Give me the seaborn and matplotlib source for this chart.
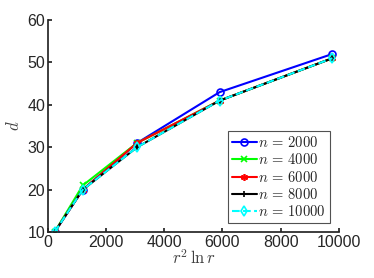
import numpy as np
import pandas as pd
import matplotlib
matplotlib.use("Agg")
import matplotlib.pyplot as plt
import seaborn as sns

# x = r^2 ln r for r = 10, 20, 30, 40, 50
r_vals = [10, 20, 30, 40, 50]
x_vals = [r * r * np.log(r) for r in r_vals]

n_labels = ["2000", "4000", "6000", "8000", "10000"]
d_2000 = [10, 20, 31, 43, 52]
d_4000 = [10, 21, 31, 41, 51]
d_6000 = [10, 20, 31, 41, 51]
d_8000 = [10, 20, 30, 41, 51]
d_10000 = [10, 20, 30, 41, 51]

sns.set_theme(style="ticks")
plt.rcParams['font.family'] = ['Liberation Sans', 'DejaVu Sans']
plt.rcParams['mathtext.fontset'] = 'cm'

series = [d_2000, d_4000, d_6000, d_8000, d_10000]
colors = ["#0000ff", "#00ff00", "#ff0000", "#000000", "#00ffff"]
markers = ["o", "x", (6, 2, 0), "+", "d"]
styles = ["-", "-", "-", "-", "--"]

fig, ax = plt.subplots(figsize=(3.74, 2.78), dpi=100)

for lab, d, c, m, ls in zip(n_labels, series, colors, markers, styles):
    df = pd.DataFrame({"x": x_vals, "d": d})
    sns.lineplot(data=df, x="x", y="d", ax=ax, color=c, marker=m, linestyle=ls,
                 linewidth=1.5, markersize=5, markerfacecolor="none",
                 markeredgecolor=c, markeredgewidth=1.2,
                 label=r"$n\,=\,%s$" % lab)

ax.set_xlim(0, 10000)
ax.set_ylim(10, 60)
ax.set_xticks([0, 2000, 4000, 6000, 8000, 10000])
ax.set_yticks([10, 20, 30, 40, 50, 60])
ax.tick_params(direction="in", length=3, labelsize=11.5, colors="#262626",
               pad=2)
ax.set_xlabel(r"$r^2\,\ln r$", fontsize=12, labelpad=-1, color="#404040")
ax.set_ylabel(r"$d$", fontsize=12, labelpad=4, color="#404040")
sns.despine(ax=ax)

leg = ax.legend(loc="lower right", fontsize=10.5, frameon=True, fancybox=False,
                handlelength=1.7, handletextpad=0.1, borderpad=0.3,
                labelspacing=0.15, borderaxespad=0.6)
leg.get_frame().set_edgecolor("#262626")
leg.get_frame().set_linewidth(0.8)

fig.subplots_adjust(left=0.128, right=0.906, top=0.928, bottom=0.165)
fig.savefig("out.png", dpi=100)
